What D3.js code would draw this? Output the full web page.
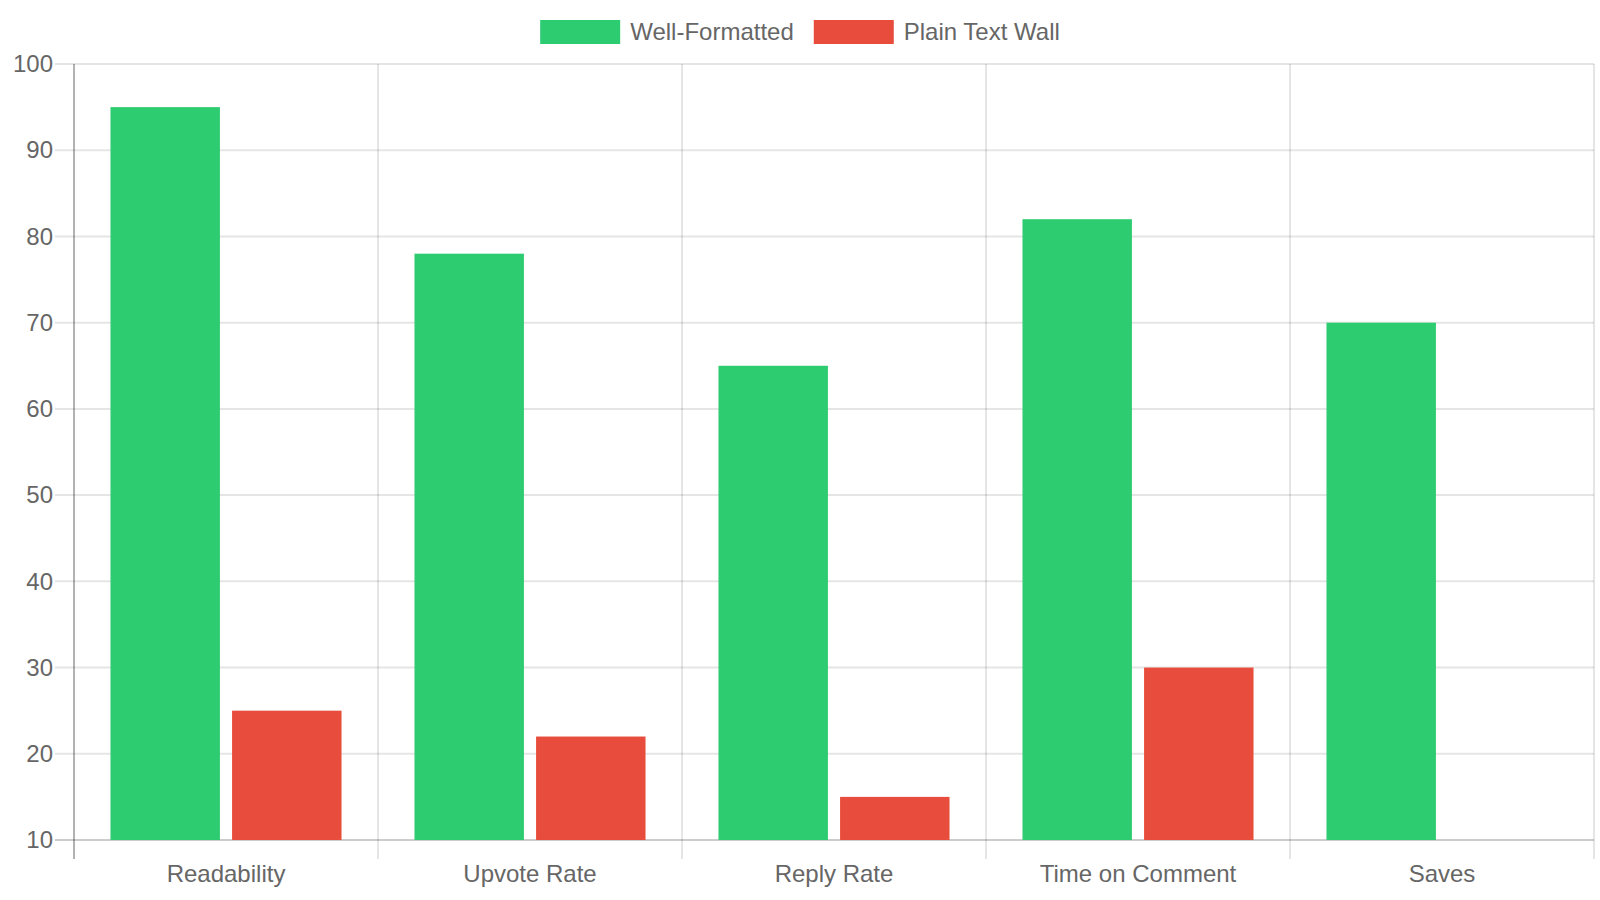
<!DOCTYPE html>
<html>
<head>
<meta charset="utf-8">
<script src="https://cdn.jsdelivr.net/npm/d3@7"></script>
<style>
  body { margin: 0; background: #fff; }
  svg { display: block; font-family: "Liberation Sans", Arial, Helvetica, sans-serif; }
</style>
</head>
<body>
<svg id="chart" width="1600" height="900"></svg>
<script>
// data
const categories = ["Readability", "Upvote Rate", "Reply Rate", "Time on Comment", "Saves"];
const seriesNames = ["Well-Formatted", "Plain Text Wall"];
const seriesColors = ["#2ecc71", "#e74c3c"];
const wellFormatted = [95, 78, 65, 82, 70];
const plainTextWall = [25, 22, 15, 30, 10];
const yTicks = [10, 20, 30, 40, 50, 60, 70, 80, 90, 100];

const svg = d3.select("#chart");
const plot = { left: 74, right: 1594, top: 64, bottom: 840 };
const textColor = "#666";
const gridColor = "rgba(0,0,0,0.1)";

const x0 = d3.scaleBand().domain(categories).range([plot.left, plot.right]).padding(0);
const x1 = d3.scaleBand().domain(seriesNames)
    .range([x0.bandwidth() * 0.1, x0.bandwidth() * 0.9])
    .paddingInner(0.1).paddingOuter(0.05);
const y = d3.scaleLinear().domain([10, 100]).range([plot.bottom, plot.top]);

// horizontal grid (extends left as tick marks)
const gridG = svg.append("g");
gridG.selectAll("line.h")
    .data(yTicks)
    .join("line")
    .attr("class", "h")
    .attr("x1", plot.left - 19).attr("x2", plot.right)
    .attr("y1", d => y(d)).attr("y2", d => y(d))
    .attr("stroke", d => d === 10 ? "rgba(0,0,0,0.2)" : gridColor)
    .attr("stroke-width", 2);

// vertical grid at category boundaries (extends below as tick marks)
const bounds = categories.map(c => x0(c)).concat([plot.right]);
gridG.selectAll("line.v")
    .data(bounds)
    .join("line")
    .attr("class", "v")
    .attr("x1", d => d).attr("x2", d => d)
    .attr("y1", plot.top).attr("y2", plot.bottom + 19)
    .attr("stroke", (d, i) => i === 0 ? "rgba(0,0,0,0.3)" : gridColor)
    .attr("stroke-width", 2);

// bars
const data = [wellFormatted, plainTextWall];
const barsG = svg.append("g");
seriesNames.forEach((s, si) => {
    barsG.selectAll(`rect.s${si}`)
        .data(categories.map((c, i) => ({ c, v: Math.max(10, data[si][i]) })))
        .join("rect")
        .attr("class", `s${si}`)
        .attr("x", d => x0(d.c) + x1(s))
        .attr("width", x1.bandwidth())
        .attr("y", d => y(d.v))
        .attr("height", d => y(10) - y(d.v))
        .attr("fill", seriesColors[si]);
});

// y axis labels
const yAxis = svg.append("g")
    .attr("transform", `translate(${plot.left - 21},0)`)
    .call(d3.axisLeft(y).tickValues(yTicks).tickSize(0).tickPadding(0));
yAxis.select(".domain").remove();
yAxis.selectAll("text")
    .attr("fill", textColor)
    .attr("font-size", 24)
    .attr("font-family", "Liberation Sans, Arial, sans-serif");

// x axis labels
const xAxis = svg.append("g")
    .attr("transform", `translate(0,${plot.bottom + 25})`)
    .call(d3.axisBottom(x0).tickSize(0).tickPadding(0));
xAxis.select(".domain").remove();
xAxis.selectAll("text")
    .attr("fill", textColor)
    .attr("font-size", 24)
    .attr("dy", "0.71em")
    .attr("font-family", "Liberation Sans, Arial, sans-serif");

// legend
const legend = svg.append("g");
const items = legend.selectAll("g.item")
    .data(seriesNames)
    .join("g")
    .attr("class", "item");
items.append("rect")
    .attr("width", 80).attr("height", 24)
    .attr("y", 20)
    .attr("fill", (d, i) => seriesColors[i]);
items.append("text")
    .attr("x", 90).attr("y", 32)
    .attr("dy", "0.35em")
    .attr("font-size", 24)
    .attr("fill", textColor)
    .text(d => d);

const widths = [];
items.each(function () {
    widths.push(90 + d3.select(this).select("text").node().getComputedTextLength());
});
const total = d3.sum(widths) + 20 * (widths.length - 1);
let offset = 800 - total / 2;
items.attr("transform", (d, i) => {
    const t = `translate(${offset},0)`;
    offset += widths[i] + 20;
    return t;
});
</script>
</body>
</html>
